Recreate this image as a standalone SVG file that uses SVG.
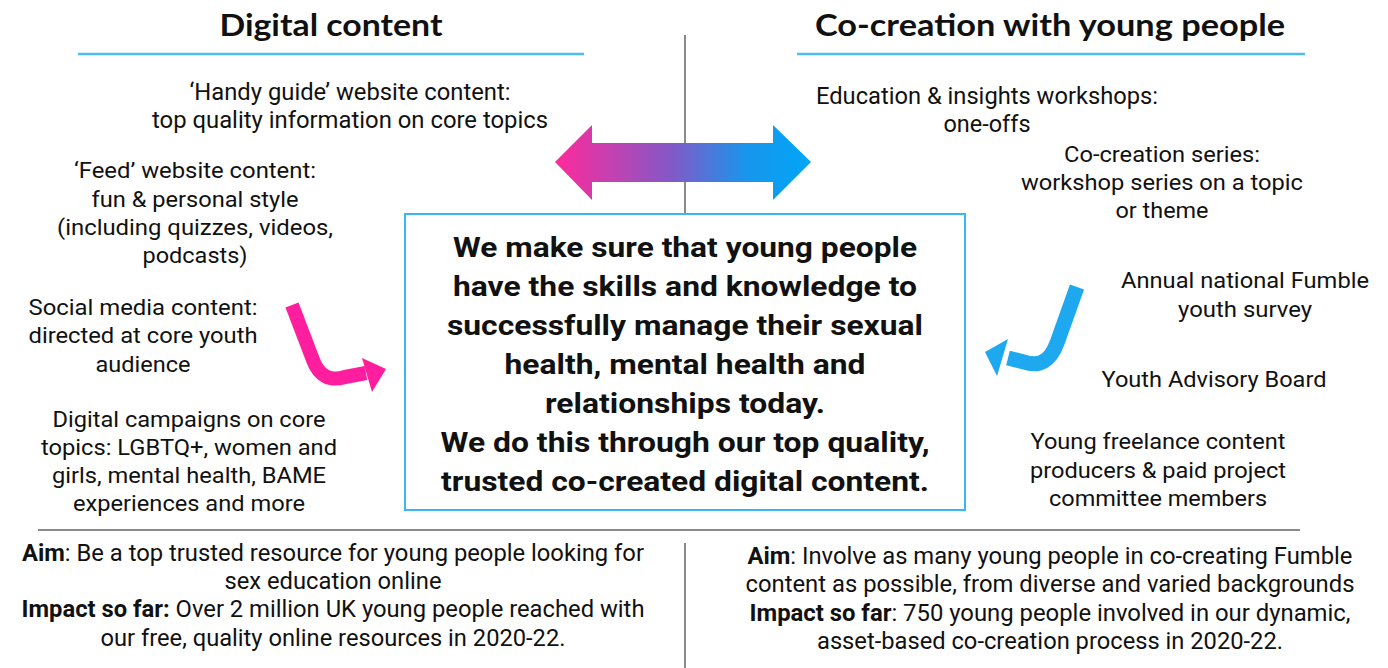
<svg xmlns="http://www.w3.org/2000/svg" width="1388" height="668" viewBox="0 0 1388 668">
<defs>
<style>
.h{font-family:Lato,"Liberation Sans",sans-serif;font-weight:700;font-size:30px;fill:#111;text-anchor:middle}
.t{font-family:Roboto,"Liberation Sans",sans-serif;font-size:22px;fill:#111;text-anchor:middle}
.tc{font-size:24px}
.c{font-family:Roboto,"Liberation Sans",sans-serif;font-weight:700;font-size:27px;fill:#111;text-anchor:middle}
.b{font-weight:700}
.bl{stroke:#4dbdf2;stroke-width:2.5;fill:none}
.gl{stroke:#8a8a8a;stroke-width:2;fill:none}
</style>
<linearGradient id="grad" x1="555" y1="0" x2="811" y2="0" gradientUnits="userSpaceOnUse">
<stop offset="0" stop-color="#ff2a9c"/>
<stop offset="0.45" stop-color="#8458c6"/>
<stop offset="0.75" stop-color="#1796ec"/>
<stop offset="1" stop-color="#00a6f7"/>
</linearGradient>
</defs>
<rect width="1388" height="668" fill="#fff"/>

<g id="dividers">
<line class="gl" x1="685" y1="35" x2="685" y2="213"/>
<line class="gl" x1="38" y1="530" x2="1300" y2="530"/>
<line class="gl" x1="685" y1="543" x2="685" y2="668"/>
</g>

<g id="heading-digital">
<text class="h" x="331" y="36" textLength="223" lengthAdjust="spacingAndGlyphs">Digital content</text>
<line class="bl" x1="78" y1="54" x2="584" y2="54"/>
</g>
<g id="heading-cocreation">
<text class="h" x="1050" y="36" textLength="470" lengthAdjust="spacingAndGlyphs">Co-creation with young people</text>
<line class="bl" x1="797" y1="54" x2="1305" y2="54"/>
</g>

<g id="handy-guide">
<text class="t tc" x="350" y="100" textLength="321" lengthAdjust="spacingAndGlyphs">‘Handy guide’ website content:</text>
<text class="t tc" x="350" y="128" textLength="396" lengthAdjust="spacingAndGlyphs">top quality information on core topics</text>
</g>
<g id="feed">
<text class="t" x="195" y="178" textLength="242" lengthAdjust="spacingAndGlyphs">‘Feed’ website content:</text>
<text class="t" x="195" y="207" textLength="207" lengthAdjust="spacingAndGlyphs">fun &amp; personal style</text>
<text class="t" x="195" y="235" textLength="276" lengthAdjust="spacingAndGlyphs">(including quizzes, videos,</text>
<text class="t" x="195" y="263" textLength="105" lengthAdjust="spacingAndGlyphs">podcasts)</text>
</g>
<g id="social-media">
<text class="t" x="143" y="315" textLength="229" lengthAdjust="spacingAndGlyphs">Social media content:</text>
<text class="t" x="143" y="343" textLength="229" lengthAdjust="spacingAndGlyphs">directed at core youth</text>
<text class="t" x="143" y="372" textLength="95" lengthAdjust="spacingAndGlyphs">audience</text>
</g>
<g id="campaigns">
<text class="t" x="189" y="427" textLength="273" lengthAdjust="spacingAndGlyphs">Digital campaigns on core</text>
<text class="t" x="189" y="455" textLength="296" lengthAdjust="spacingAndGlyphs">topics: LGBTQ+, women and</text>
<text class="t" x="189" y="483" textLength="274" lengthAdjust="spacingAndGlyphs">girls, mental health, BAME</text>
<text class="t" x="189" y="511" textLength="232" lengthAdjust="spacingAndGlyphs">experiences and more</text>
</g>

<g id="workshops">
<text class="t tc" x="987" y="104" textLength="342" lengthAdjust="spacingAndGlyphs">Education &amp; insights workshops:</text>
<text class="t tc" x="987" y="132" textLength="87" lengthAdjust="spacingAndGlyphs">one-offs</text>
</g>
<g id="cocreation-series">
<text class="t" x="1162" y="162" textLength="196" lengthAdjust="spacingAndGlyphs">Co-creation series:</text>
<text class="t" x="1162" y="190" textLength="282" lengthAdjust="spacingAndGlyphs">workshop series on a topic</text>
<text class="t" x="1162" y="218" textLength="93" lengthAdjust="spacingAndGlyphs">or theme</text>
</g>
<g id="survey">
<text class="t" x="1245" y="288" textLength="248" lengthAdjust="spacingAndGlyphs">Annual national Fumble</text>
<text class="t" x="1245" y="317" textLength="134" lengthAdjust="spacingAndGlyphs">youth survey</text>
</g>
<g id="advisory-board">
<text class="t" x="1214" y="387" textLength="225" lengthAdjust="spacingAndGlyphs">Youth Advisory Board</text>
</g>
<g id="freelance">
<text class="t" x="1158" y="449" textLength="255" lengthAdjust="spacingAndGlyphs">Young freelance content</text>
<text class="t" x="1158" y="478" textLength="256" lengthAdjust="spacingAndGlyphs">producers &amp; paid project</text>
<text class="t" x="1158" y="506" textLength="218" lengthAdjust="spacingAndGlyphs">committee members</text>
</g>

<g id="mission-box">
<rect x="405" y="214" width="560" height="296" fill="#fff" stroke="#3cb6f0" stroke-width="2"/>
<text class="c" x="685" y="257" textLength="464" lengthAdjust="spacingAndGlyphs">We make sure that young people</text>
<text class="c" x="685" y="296" textLength="464" lengthAdjust="spacingAndGlyphs">have the skills and knowledge to</text>
<text class="c" x="685" y="335" textLength="476" lengthAdjust="spacingAndGlyphs">successfully manage their sexual</text>
<text class="c" x="685" y="374" textLength="361" lengthAdjust="spacingAndGlyphs">health, mental health and</text>
<text class="c" x="685" y="413" textLength="280" lengthAdjust="spacingAndGlyphs">relationships today.</text>
<text class="c" x="685" y="452" textLength="489" lengthAdjust="spacingAndGlyphs">We do this through our top quality,</text>
<text class="c" x="685" y="491" textLength="488" lengthAdjust="spacingAndGlyphs">trusted co-created digital content.</text>
</g>

<g id="aim-digital">
<text class="t tc" x="333" y="561" textLength="622" lengthAdjust="spacingAndGlyphs"><tspan class="b">Aim</tspan>: Be a top trusted resource for young people looking for</text>
<text class="t tc" x="333" y="589" textLength="217" lengthAdjust="spacingAndGlyphs">sex education online</text>
<text class="t tc" x="333" y="617" textLength="623" lengthAdjust="spacingAndGlyphs"><tspan class="b">Impact so far:</tspan> Over 2 million UK young people reached with</text>
<text class="t tc" x="333" y="646" textLength="465" lengthAdjust="spacingAndGlyphs">our free, quality online resources in 2020-22.</text>
</g>
<g id="aim-cocreation">
<text class="t tc" x="1050" y="564" textLength="605" lengthAdjust="spacingAndGlyphs"><tspan class="b">Aim</tspan>: Involve as many young people in co-creating Fumble</text>
<text class="t tc" x="1050" y="592" textLength="609" lengthAdjust="spacingAndGlyphs">content as possible, from diverse and varied backgrounds</text>
<text class="t tc" x="1050" y="621" textLength="601" lengthAdjust="spacingAndGlyphs"><tspan class="b">Impact so far</tspan>: 750 young people involved in our dynamic,</text>
<text class="t tc" x="1050" y="649" textLength="466" lengthAdjust="spacingAndGlyphs">asset-based co-creation process in 2020-22.</text>
</g>

<g id="connectors">
<polygon fill="url(#grad)" points="555,162 592,125 592,143 773,143 773,125 811,162 773,200 773,182 592,182 592,200"/>
<path d="M292 305 L313 360 Q322 384 345 377 L366 373" fill="none" stroke="#ff1f9e" stroke-width="14" stroke-linejoin="round"/>
<polygon fill="#ff1f9e" points="386,369 362,358 372,392"/>
<path d="M1077 287 L1057 343 Q1047 370 1024 362 L1008 358" fill="none" stroke="#1ea8f0" stroke-width="15" stroke-linejoin="round"/>
<polygon fill="#1ea8f0" points="985,352 1008,339 997,376"/>
</g>
</svg>
